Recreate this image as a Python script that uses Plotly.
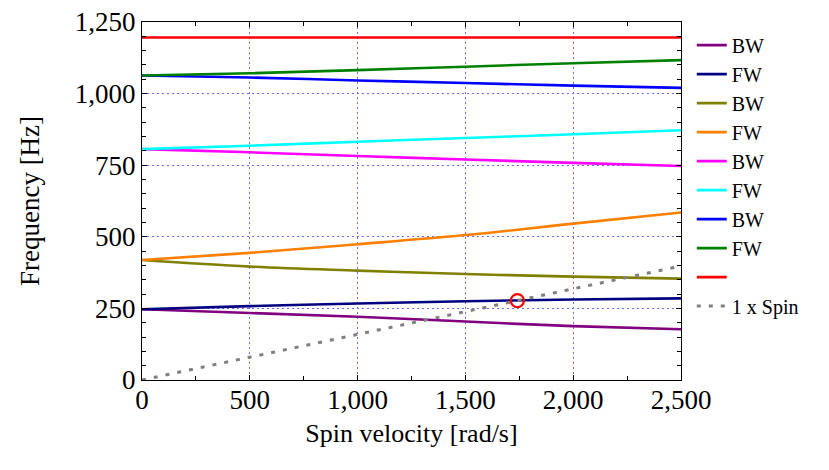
import plotly.graph_objects as go

spin = [0, 500, 1000, 1500, 2000, 2500]
bw1 = [247, 234, 221, 204, 188, 177]
fw1 = [247, 258, 267, 275, 281, 285]
bw2 = [419, 396, 382, 370, 361, 354]
fw2 = [419, 444, 474, 506, 546, 585]
bw3 = [806, 795, 782, 770, 758, 747]
fw3 = [806, 818, 832, 845, 858, 872]
bw4 = [1063, 1056, 1046, 1037, 1028, 1020]
fw4 = [1063, 1071, 1082, 1094, 1106, 1117]
red = [1196, 1196, 1196, 1196, 1196, 1196]
spin_x = [0, 2500]
spin_y = [0, 398]
cross_x = [1741]
cross_y = [277]

series = [
    ("BW", bw1, "#800080"),
    ("FW", fw1, "#000080"),
    ("BW", bw2, "#808000"),
    ("FW", fw2, "#FF8000"),
    ("BW", bw3, "#FF00FF"),
    ("FW", fw3, "#00FFFF"),
    ("BW", bw4, "#0000FF"),
    ("FW", fw4, "#008000"),
    (" ", red, "#FF0000"),
]

FONT = "Liberation Serif"
fig = go.Figure()
for name, ys, col in series:
    fig.add_trace(go.Scatter(x=spin, y=ys, name=name, mode="lines",
                             line=dict(color=col, width=2.6, shape="spline")))
fig.add_trace(go.Scatter(x=spin_x, y=spin_y, name="1 x Spin", mode="lines",
                         line=dict(color="#808080", width=3, dash="4px,8px")))
fig.add_trace(go.Scatter(x=cross_x, y=cross_y, mode="markers", showlegend=False,
                         marker=dict(symbol="circle-open", size=13, color="#FF0000",
                                     line=dict(width=2.2, color="#FF0000"))))

axis_common = dict(
    showline=True, linecolor="black", linewidth=1.3, mirror="ticks",
    ticks="inside", ticklen=5, tickwidth=1.2, tickcolor="black",
    showgrid=True, gridcolor="#6a6aff", griddash="2px,3px", gridwidth=1,
    zeroline=False, tickfont=dict(family=FONT, size=27, color="black"),
    automargin=False, ticklabeloverflow="allow",
)
fig.update_xaxes(range=[0, 2500], tickvals=[0, 500, 1000, 1500, 2000, 2500],
                 ticktext=["0", "500", "1,000", "1,500", "2,000", "2,500"],
                 minor=dict(dtick=250, tick0=0, ticks="inside", ticklen=4, tickcolor="black", showgrid=False),
                 ticklabelstandoff=-5,
                 title=dict(text="Spin velocity [rad/s]", font=dict(family=FONT, size=26, color="black"), standoff=10),
                 **axis_common)
fig.update_yaxes(range=[0, 1250], tickvals=[0, 250, 500, 750, 1000, 1250],
                 ticktext=["0", "250", "500", "750", "1,000", "1,250"],
                 minor=dict(dtick=50, tick0=0, ticks="inside", ticklen=4, tickcolor="black", showgrid=False),
                 title=dict(text="Frequency [Hz]", font=dict(family=FONT, size=27, color="black"), standoff=27),
                 **axis_common)
fig.update_layout(
    width=821, height=462,
    margin=dict(l=134, r=148, t=14, b=90),
    plot_bgcolor="white", paper_bgcolor="white",
    font=dict(family=FONT, color="black"),
    legend=dict(x=1.02, y=0.99, xanchor="left", yanchor="top",
                font=dict(family=FONT, size=20, color="black"),
                bgcolor="rgba(0,0,0,0)", itemwidth=30, tracegroupgap=0),
)
fig.write_html("out.html")
